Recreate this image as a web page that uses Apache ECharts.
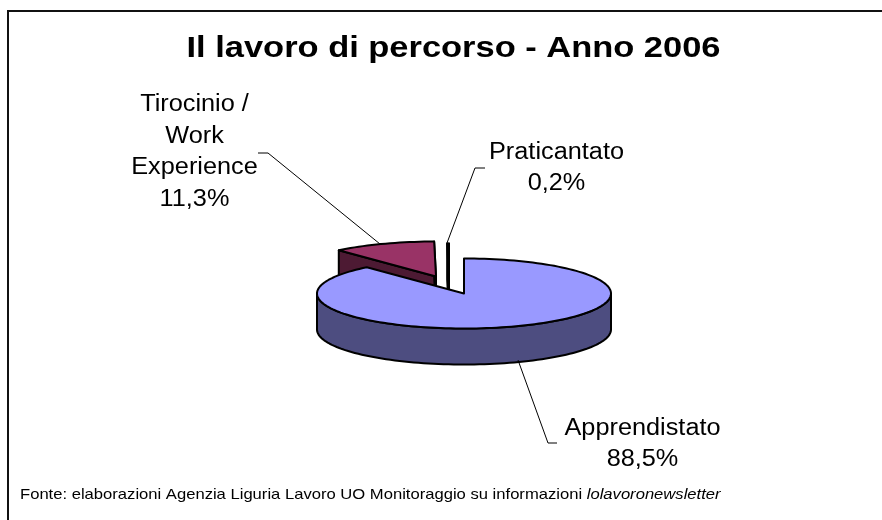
<!DOCTYPE html>
<html>
<head>
<meta charset="utf-8">
<style>
  html, body { margin: 0; padding: 0; background: #fff; }
  #chart { width: 882px; height: 520px; }
</style>
<script src="https://cdn.jsdelivr.net/npm/echarts@6/dist/echarts.min.js"></script>
</head>
<body>
<div id="chart"></div>
<script>
const categories = ['Apprendistato', 'Tirocinio / Work Experience', 'Praticantato']
const shares = [88.5, 11.3, 0.2]
const labelLines = [['Apprendistato'], ['Tirocinio /', 'Work', 'Experience'], ['Praticantato']]

// pie look, in pixels
const cx = 464
const cy = 293.5
const rx = 147
const ry = 35
const depth = 36
const looks = [
  { top: '#9999FF', side: '#4D4D80', dx: 0, dy: 0 },
  { top: '#993366', side: '#4D1A33', dx: -28, dy: -17 },
  { top: '#000000', side: '#000000', dx: -15, dy: -15 }
]
// label anchor and leader line
const labelAt = [[642.5, 444], [194.5, 152], [556.5, 168]]
const leaders = [
  [[518, 360], [548, 443], [557, 443]],
  [[380, 244], [268, 153], [258, 153]],
  [[447, 243], [475, 168], [485, 168]]
]
// back slices first, the big one lies over them
const drawOrder = [1, 2, 0]

const total = shares.reduce((a, b) => a + b, 0)
const startAngles = []
shares.forEach((v, i) => {
  startAngles.push(i === 0 ? 0 : startAngles[i - 1] + shares[i - 1] / total * 360)
})

function rim(a, ox, oy) {
  const r = a * Math.PI / 180
  return [ox + rx * Math.sin(r), oy - ry * Math.cos(r)]
}

function arc(from, to, ox, oy) {
  const pts = []
  const steps = Math.max(2, Math.ceil((to - from) / 2))
  for (let s = 0; s <= steps; s++) {
    pts.push(rim(from + (to - from) * s / steps, ox, oy))
  }
  return pts
}

const line = { stroke: '#000', lineWidth: 2, lineJoin: 'round' }

function sliceShapes(i) {
  const look = looks[i]
  const ox = cx + look.dx
  const oy = cy + look.dy
  const a0 = startAngles[i]
  const a1 = a0 + shares[i] / total * 360
  const out = []
  const down = p => [p[0], p[1] + depth]

  // walls of the cut edges that face us
  if (a0 > 180 && a0 < 360) {
    const wall = [[ox, oy], rim(a0, ox, oy), down(rim(a0, ox, oy)), [ox, oy + depth]]
    out.push({ type: 'polygon', shape: { points: wall }, style: { fill: look.side, ...line } })
  }
  if (a1 > 0 && a1 < 180 || i > 0) {
    const wall = [[ox, oy], rim(a1, ox, oy), down(rim(a1, ox, oy)), [ox, oy + depth]]
    out.push({ type: 'polygon', shape: { points: wall }, style: { fill: look.side, ...line } })
  }
  // front of the rim
  const f0 = Math.max(a0, 90)
  const f1 = Math.min(a1, 270)
  if (f1 > f0) {
    const edge = arc(f0, f1, ox, oy)
    const wall = edge.concat(edge.slice().reverse().map(down))
    out.push({ type: 'polygon', shape: { points: wall }, style: { fill: look.side, ...line } })
  }
  // top face
  const face = [[ox, oy]].concat(arc(a0, a1, ox, oy))
  out.push({ type: 'polygon', shape: { points: face }, style: { fill: look.top, ...line } })
  return out
}

const chart = echarts.init(document.getElementById('chart'))
chart.setOption({
  animation: false,
  backgroundColor: '#fff',
  graphic: [{
    type: 'polyline',
    silent: true,
    shape: { points: [[8, 520], [8, 11], [882, 11]] },
    style: { fill: 'none', stroke: '#111', lineWidth: 2 }
  }, {
    // the original type is stretched sideways
    type: 'text',
    silent: true,
    x: 453.5,
    y: 49,
    scaleX: 1.148,
    style: {
      text: 'Il lavoro di percorso - Anno 2006',
      fontFamily: 'Liberation Sans',
      fontWeight: 'bold',
      fontSize: 30,
      fill: '#000',
      align: 'center',
      verticalAlign: 'middle'
    }
  }, {
    type: 'text',
    silent: true,
    x: 20,
    y: 494.5,
    scaleX: 1.107,
    style: {
      text: 'Fonte: elaborazioni Agenzia Liguria Lavoro UO Monitoraggio su informazioni {i|lolavoronewsletter}',
      fontFamily: 'Liberation Sans',
      fontSize: 15,
      fill: '#000',
      align: 'left',
      verticalAlign: 'middle',
      rich: { i: { fontFamily: 'Liberation Sans', fontStyle: 'italic', fontSize: 15, fill: '#000' } }
    }
  }],
  xAxis: { show: false },
  yAxis: { show: false },
  series: [{
    type: 'custom',
    coordinateSystem: 'none',
    data: drawOrder.map(i => [i]),
    renderItem(params, api) {
      return { type: 'group', children: sliceShapes(api.value(0)) }
    }
  }, {
    type: 'custom',
    coordinateSystem: 'none',
    data: categories.map((c, i) => [i]),
    renderItem(params, api) {
      const i = api.value(0)
      const pct = shares[i].toFixed(1).replace('.', ',') + '%'
      return {
        type: 'group',
        children: [{
          type: 'polyline',
          shape: { points: leaders[i] },
          style: { fill: 'none', stroke: '#000', lineWidth: 1 }
        }, {
          type: 'text',
          x: labelAt[i][0],
          y: labelAt[i][1],
          scaleX: 1.1,
          style: {
            text: labelLines[i].concat(pct).join('\n'),
            fontFamily: 'Liberation Sans',
            fontSize: 23,
            lineHeight: 31.5,
            fill: '#000',
            align: 'center',
            verticalAlign: 'middle'
          }
        }]
      }
    }
  }]
})
</script>
</body>
</html>
